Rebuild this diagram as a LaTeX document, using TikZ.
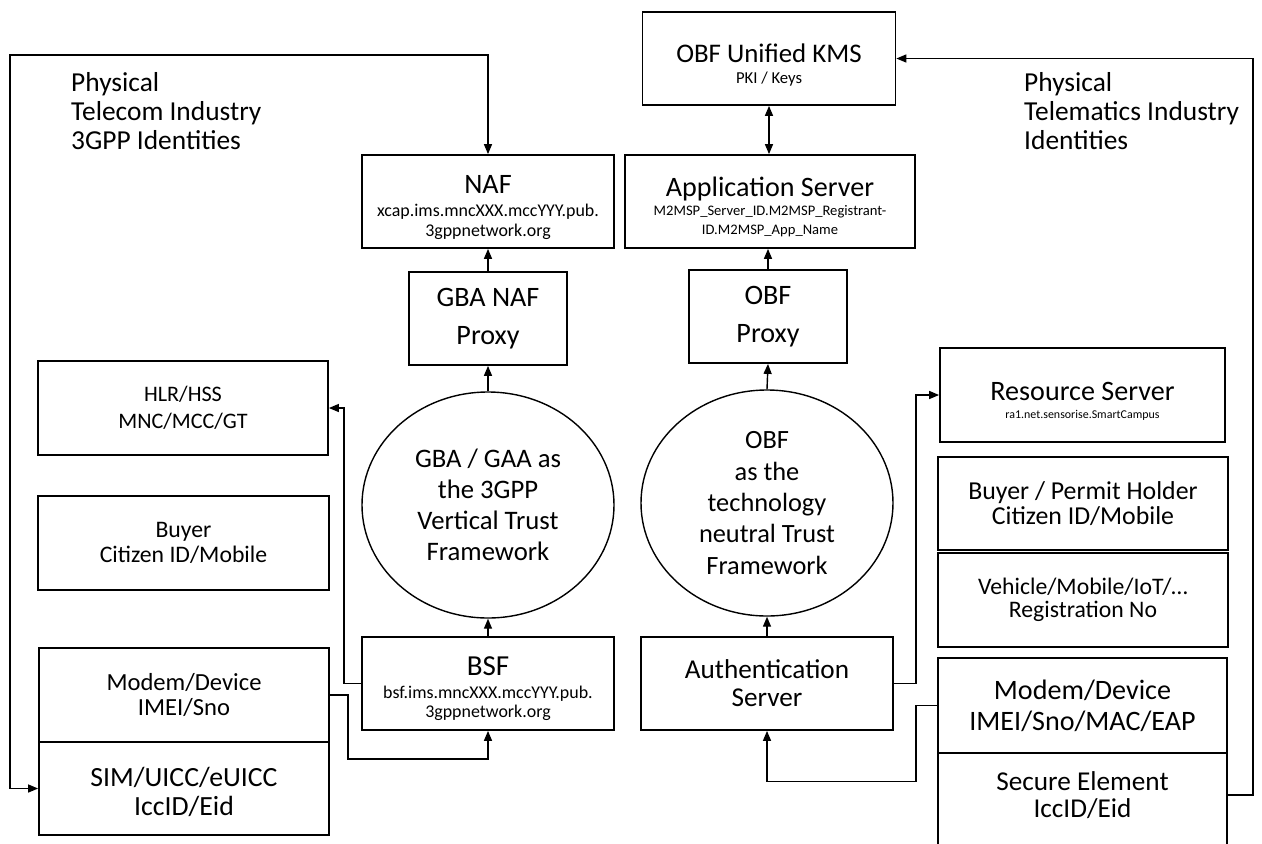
\documentclass[tikz,border=0pt]{standalone}
\usepackage{fontspec}
\setmainfont{Carlito}
\usetikzlibrary{arrows.meta, shapes.geometric, positioning}

\tikzset{
	blk/.style={draw, line width=1pt, align=center, inner sep=0pt},
	sz/.style 2 args={minimum width=#1*0.02cm, minimum height=#2*0.02cm},
	oval/.style={ellipse, draw, line width=0.8pt, align=center, inner sep=0pt},
	link/.style={line width=0.8pt, -{Triangle[length=2mm, width=1.6mm]}},
	both/.style={line width=0.8pt, {Triangle[length=2mm, width=1.6mm]}-{Triangle[length=2mm, width=1.6mm]}},
}
\newcommand{\fsz}[2]{\fontsize{#1}{#2}\selectfont}

\begin{document}
\begin{tikzpicture}[x=0.02cm, y=-0.02cm]
	\useasboundingbox (0,0) rectangle (1262,843);
	\clip (0,0) rectangle (1262,843);

	% left column
	\node[blk, sz={290}{94}, font=\fsz{12.6}{15.5}] (hlr) at (183,408) {HLR/HSS\\MNC/MCC/GT};
	\node[blk, sz={291}{94}, font=\fsz{13.5}{14.5}] (buy) at (183.5,543) {Buyer\\Citizen ID/Mobile};
	\node[blk, sz={290}{94}, font=\fsz{14}{14.5}] (mdl) at (184,695) {Modem/Device\\IMEI/Sno};
	\node[blk, sz={290}{93}, font=\fsz{15.8}{16.5}] (sim) at (184,788.5) {\rule{0pt}{15pt}SIM/UICC/eUICC\\IccID/Eid};
	\node[align=left, anchor=west, font=\fsz{15.6}{16.5}] (tel) at (65,111) {Physical\\Telecom Industry\\3GPP Identities};

	% 3GPP column
	\node[blk, sz={252}{93}, font=\fsz{10.2}{11.2}] (naf) at (488,201.5) {\rule{0pt}{17pt}{\fsz{16}{18}NAF}\\[2pt]xcap.ims.mncXXX.mccYYY.pub.\\3gppnetwork.org};
	\node[blk, sz={158}{93}, font=\fsz{16}{21.5}] (gbap) at (488,318.5) {GBA NAF\\Proxy};
	\node[oval, sz={252}{226}, font=\fsz{15.2}{17.6}] (gba) at (488,505) {GBA / GAA as\\the 3GPP\\Vertical Trust\\Framework};
	\node[blk, sz={252}{93}, font=\fsz{10.2}{11.2}] (bsf) at (488,683.5) {\rule{0pt}{17pt}{\fsz{16.5}{18}BSF}\\[1.6pt]bsf.ims.mncXXX.mccYYY.pub.\\3gppnetwork.org};

	% OBF column
	\node[blk, sz={253}{93}, font=\fsz{9.5}{11}] (kms) at (769,58.5) {\rule{0pt}{18pt}{\fsz{15.3}{18}OBF Unified KMS}\\[1pt]PKI / Keys};
	\node[blk, sz={290}{93}, font=\fsz{8.3}{10.6}] (app) at (770,201.5) {\rule{0pt}{17pt}{\fsz{16}{18}Application Server}\\[0.6pt]M2MSP\_Server\_ID.M2MSP\_Registrant-\\ID.M2MSP\_App\_Name};
	\node[blk, sz={158}{93}, font=\fsz{16}{21.5}] (obfp) at (768,316.5) {OBF\\Proxy};
	\node[oval, sz={252}{226}, font=\fsz{15}{17.9}] (obf) at (767,503) {OBF\\as the\\technology\\neutral Trust\\Framework};
	\node[blk, sz={252}{93}, font=\fsz{15.5}{15.8}] (auth) at (767,683.5) {Authentication\\Server};

	% right column
	\node[blk, sz={285}{94}, font=\fsz{6.8}{10.4}] (res) at (1082.5,395) {\rule{0pt}{18pt}{\fsz{16}{18}Resource Server}\\ra1.net.sensorise.SmartCampus};
	\node[blk, sz={290}{93}, font=\fsz{14.7}{14.4}] (bpm) at (1083,503.5) {Buyer / Permit Holder\\Citizen ID/Mobile};
	\node[blk, sz={290}{94}, font=\fsz{13.5}{13.2}] (veh) at (1083,600) {Vehicle/Mobile/IoT/…\\Registration No};
	\node[blk, sz={289}{95}, font=\fsz{16}{17.5}] (mdr) at (1082.5,705.5) {Modem/Device\\IMEI/Sno/MAC/EAP};
	\node[align=center, inner sep=0pt, sz={289}{84}, font=\fsz{15.5}{15.5}] (sec) at (1082.5,795) {Secure Element\\IccID/Eid};
	\draw[line width=1pt] (sec.south west) ++(0,60) -- (sec.north west) -- (sec.north east) -- ++(0,120);
	\node[align=left, anchor=west, font=\fsz{15.6}{16.5}] (tmx) at (1018,111) {Physical\\Telematics Industry\\Identities};

	\coordinate (ltop) at (10,55);
	\coordinate (rtop) at (1253,58.5);

	\draw[link] (gbap.north) -- (gbap.north |- naf.south);
	\draw[link] (gba.north) -- (gbap.south);
	\draw[link] (bsf.north) -- (gba.south);
	\draw[link] (obfp.north) -- (obfp.north |- app.south);
	\draw[link] (obf.north) -- (obfp.south);
	\draw[link] (auth.north) -- (obf.south);
	\draw[both] (kms.south) -- (kms.south |- app.north);

	\draw[link] (bsf.west) -- ++(-17,0) |- (hlr.east);
	\draw[link] (mdl.east) -- ++(18,0) -- ++(0,64) -| (bsf.south);
	\draw[link] (auth.east) -- ++(22,0) |- (res.west);
	\draw[link] (mdr.west) -- ++(-21,0) -- ++(0,76) -| (auth.south);

	\draw[both] (sim.west) -| (ltop) -| (naf.north);
	\draw[link] (sec.east) -| (rtop) -- (kms.east);
\end{tikzpicture}
\end{document}
